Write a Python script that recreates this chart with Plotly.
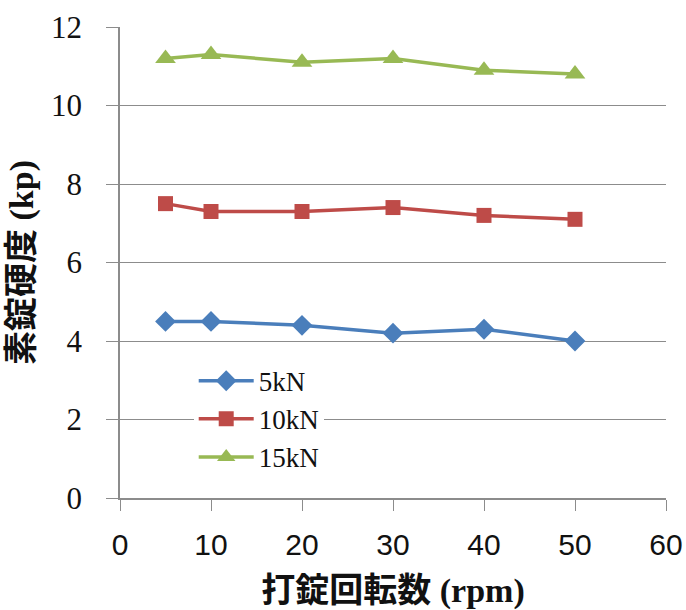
import plotly.graph_objects as go

# Tableting speed (rpm) and resulting tablet hardness (kp) per compression force
rpm = [5, 10, 20, 30, 40, 50]
hardness_5kN = [4.5, 4.5, 4.4, 4.2, 4.3, 4.0]
hardness_10kN = [7.5, 7.3, 7.3, 7.4, 7.2, 7.1]
hardness_15kN = [11.2, 11.3, 11.1, 11.2, 10.9, 10.8]

series = [
    ("5kN", hardness_5kN, "#4A7EBB", "diamond", 16),
    ("10kN", hardness_10kN, "#BE4B48", "square", 15),
    ("15kN", hardness_15kN, "#98B954", "triangle-up", 18),
]

fig = go.Figure()
for name, vals, color, symbol, size in series:
    fig.add_trace(go.Scatter(
        x=rpm, y=vals, name=name, mode="lines+markers",
        line=dict(color=color, width=3.5),
        marker=dict(symbol=symbol, size=size, color=color),
    ))

serif = "Liberation Serif, serif"
sans = "Liberation Sans, sans-serif"
title_font = dict(family="Liberation Serif, Noto Sans CJK JP, serif", size=34, color="#111")
axis_grey = "#8c8c8c"

fig.update_layout(
    width=686, height=610,
    margin=dict(l=120, r=20, t=27, b=112, autoexpand=False),
    paper_bgcolor="white", plot_bgcolor="white",
    showlegend=True,
    legend=dict(
        x=0.135, y=0.30, xanchor="left", yanchor="top",
        bgcolor="white", font=dict(family=serif, size=27, color="#111"),
        itemwidth=55, tracegroupgap=0,
        entrywidth=150, entrywidthmode="pixels",
    ),
    xaxis=dict(
        range=[0, 60], tickvals=[0, 10, 20, 30, 40, 50, 60],
        automargin=False,
        showgrid=False, zeroline=False,
        showline=True, linecolor=axis_grey, linewidth=1.5,
        ticks="outside", ticklen=11, tickcolor=axis_grey,
        ticklabelstandoff=8,
        tickfont=dict(family=sans, size=30, color="#111"),
        title=dict(text="<b>打錠回転数 (rpm)</b>", font=title_font, standoff=18),
    ),
    yaxis=dict(
        range=[0, 12], tickvals=[0, 2, 4, 6, 8, 10, 12],
        automargin=False,
        showgrid=True, gridcolor=axis_grey, gridwidth=1.2,
        zeroline=False,
        showline=True, linecolor=axis_grey, linewidth=1.5,
        ticks="outside", ticklen=12, tickcolor=axis_grey,
        ticklabelstandoff=18,
        tickfont=dict(family=serif, size=31, color="#111"),
        title=dict(text="<b>素錠硬度 (kp)</b>", font=title_font, standoff=7),
    ),
)

fig.write_html("out.html")
